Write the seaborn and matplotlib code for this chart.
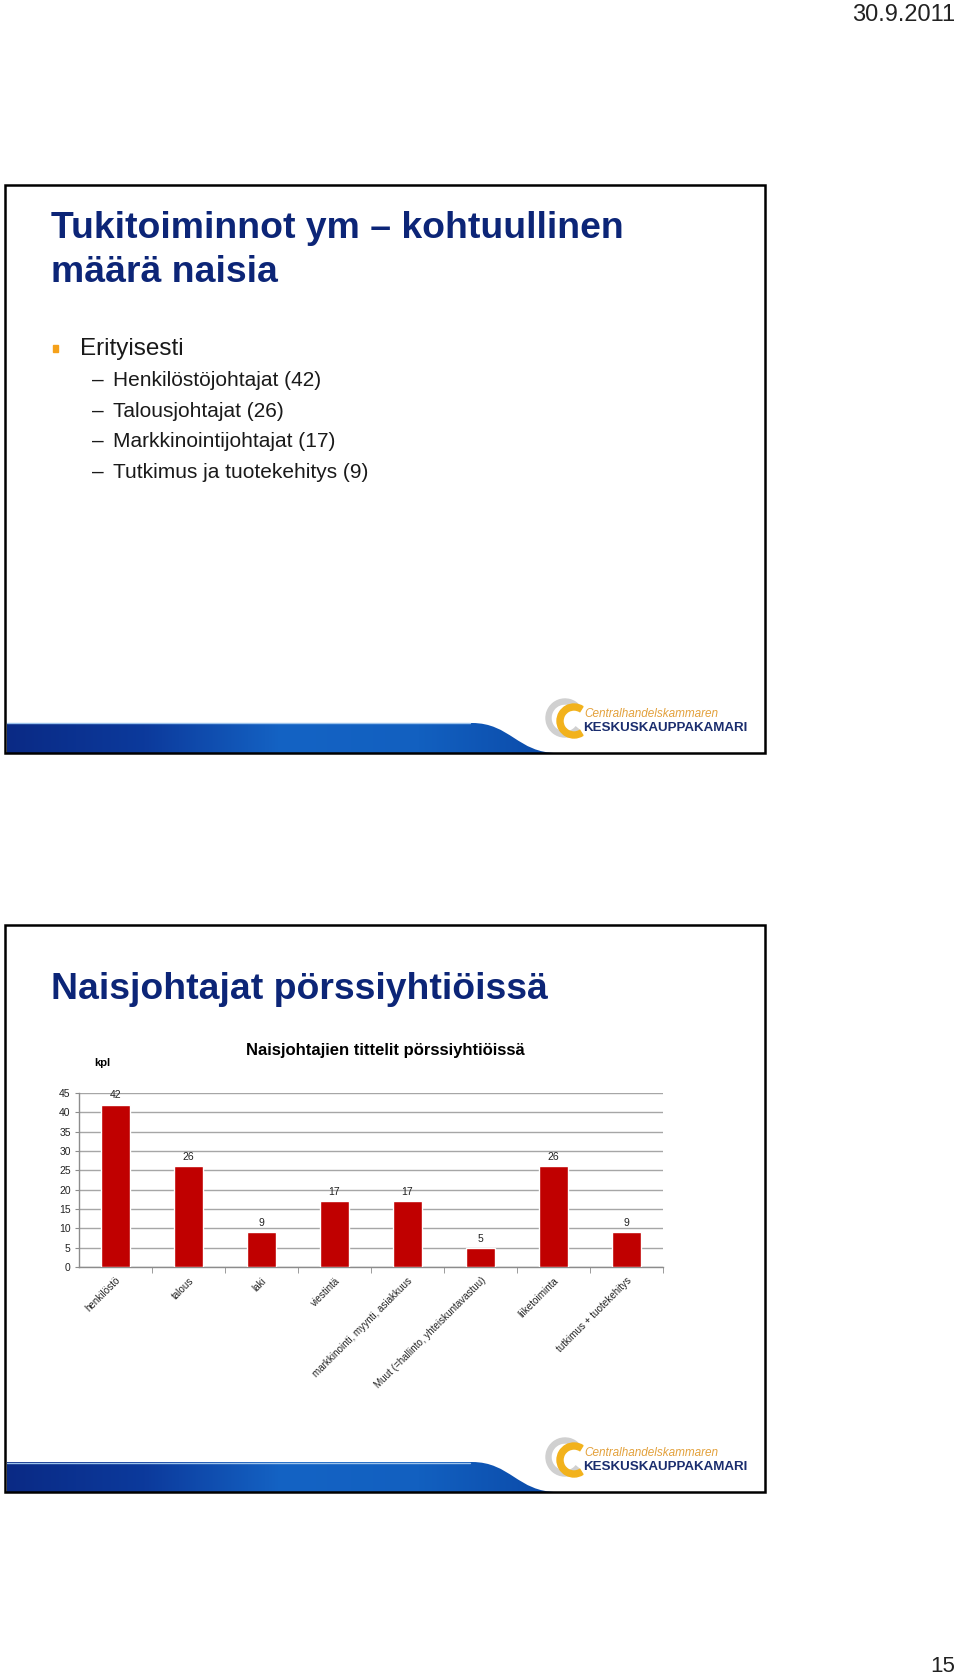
import numpy as np
import matplotlib
matplotlib.use('Agg')
import matplotlib.pyplot as plt
import seaborn as sns
from matplotlib import font_manager as fm
from matplotlib.colors import LinearSegmentedColormap
from matplotlib.patches import Rectangle, Wedge, PathPatch
from matplotlib.path import Path

# Chart data
categories = ['henkilöstö', 'talous', 'laki', 'viestintä',
              'markkinointi, myynti, asiakkuus',
              'Muut (=hallinto, yhteiskuntavastuu)',
              'liiketoiminta', 'tutkimus + tuotekehitys']
counts = [42, 26, 9, 17, 17, 5, 26, 9]
y_ticks = [0, 5, 10, 15, 20, 25, 30, 35, 40, 45]

# Slide texts
slide1_title = ['Tukitoiminnot ym – kohtuullinen', 'määrä naisia']
slide1_bullet = 'Erityisesti'
slide1_items = ['Henkilöstöjohtajat (42)', 'Talousjohtajat (26)',
                'Markkinointijohtajat (17)', 'Tutkimus ja tuotekehitys (9)']
slide2_title = 'Naisjohtajat pörssiyhtiöissä'
chart_title = 'Naisjohtajien tittelit pörssiyhtiöissä'
y_unit = 'kpl'
date_text = '30.9.2011'
page_no = '15'
logo_small = 'Centralhandelskammaren'
logo_big = 'KESKUSKAUPPAKAMARI'

W, H = 960, 1676
NAVY = '#0c2577'
RED = '#c00000'


def pick_font(names):
    for n in names:
        try:
            fm.findfont(fm.FontProperties(family=n), fallback_to_default=False)
            return n, True
        except Exception:
            pass
    return 'Liberation Sans', False


NARROW, has_narrow = pick_font(['Liberation Sans Narrow', 'Arial Narrow'])
k = 1.0 if has_narrow else 0.84   # titles only: shrink when no narrow face exists

sns.set_style('white')
plt.rcParams['font.family'] = ['Liberation Sans', 'DejaVu Sans']

fig = plt.figure(figsize=(W / 100, H / 100), dpi=100)
bg = fig.add_axes([0, 0, 1, 1])
bg.set_xlim(0, W)
bg.set_ylim(H, 0)
bg.axis('off')

band_cmap = LinearSegmentedColormap.from_list(
    'band', ['#0a2a85', '#0c3a9c', '#1463c4', '#1260c0', '#0b4aa8'])
grad = np.linspace(0, 1, 256).reshape(1, -1)


def slide_frame(top, bottom):
    # footer band with curved end
    y0, y1 = bottom - 30, bottom
    verts = [(7, y1), (7, y0), (472, y0), (510, y0), (518, y1), (557, y1), (7, y1)]
    codes = [Path.MOVETO, Path.LINETO, Path.LINETO, Path.CURVE4, Path.CURVE4,
             Path.CURVE4, Path.CLOSEPOLY]
    patch = PathPatch(Path(verts, codes), fc='none', ec='none')
    bg.add_patch(patch)
    im = bg.imshow(grad, cmap=band_cmap, extent=[7, 557, y1, y0], aspect='auto', zorder=1)
    im.set_clip_path(patch)
    bg.plot([7, 470], [y0 + 0.5, y0 + 0.5], color='#9cc3ec', lw=1, zorder=2)
    # logo
    bg.add_patch(Wedge((565, bottom - 35), 19, 40, 320, width=5, color='#d0d0d0', zorder=2))
    bg.add_patch(Wedge((574, bottom - 32), 17, 58, 302, width=6, color='#f2b21c', zorder=3))
    bg.text(584, bottom - 36, logo_small, fontsize=8.5, style='italic', color='#e3a13c',
            va='baseline', ha='left')
    bg.text(583, bottom - 22, logo_big, fontsize=9.6, weight='bold', color='#1a2d6e',
            va='baseline', ha='left')
    bg.add_patch(Rectangle((5, top), 760, bottom - top, fill=False, ec='black',
                           lw=1.8, zorder=5))


slide_frame(185, 753)
slide_frame(925, 1492)

# Header / page number
bg.text(955, 21, date_text, fontsize=17, ha='right', va='baseline', color='#222222')
bg.text(955, 1672, page_no, fontsize=16, ha='right', va='baseline', color='#222222')

# Slide 1
for i, line in enumerate(slide1_title):
    bg.text(51, 238 + 44 * i, line, fontsize=32 * k, weight='bold', color=NAVY,
            family=NARROW, va='baseline')
bg.add_patch(Rectangle((53, 345), 5, 7, color='#f5a11a'))
bg.text(80, 355, slide1_bullet, fontsize=17.5, va='baseline', color='#1a1a1a')
for i, item in enumerate(slide1_items):
    yb = 386 + 30.5 * i
    bg.text(92, yb, '–', fontsize=15, va='baseline', color='#1a1a1a')
    bg.text(113, yb, item, fontsize=15, va='baseline', color='#1a1a1a')

# Slide 2
bg.text(51, 999, slide2_title, fontsize=32 * k, weight='bold', color=NAVY,
        family=NARROW, va='baseline')
bg.text(385, 1055, chart_title, fontsize=12, weight='bold',
        ha='center', va='baseline', color='black')
bg.text(102, 1066, y_unit, fontsize=8, weight='bold', family=NARROW,
        ha='center', va='baseline', color='black')

# Bar chart
ax_l, ax_r, ax_t, ax_b = 79, 663, 1093, 1267
ax = fig.add_axes([ax_l / W, 1 - ax_b / H, (ax_r - ax_l) / W, (ax_b - ax_t) / H])
ax.patch.set_alpha(0)
sns.barplot(x=categories, y=counts, color=RED, saturation=1, width=0.4, ax=ax, zorder=3)
ax.bar_label(ax.containers[0], padding=3, fontsize=7.5, family=NARROW, color='#222222')
ax.set_ylim(0, 45)
ax.set_xlim(-0.5, len(categories) - 0.5)
ax.set_yticks(y_ticks)
ax.yaxis.grid(True, color='#a6a6a6', lw=1)
ax.set_axisbelow(True)
for s in ['top', 'right']:
    ax.spines[s].set_visible(False)
for s in ['left', 'bottom']:
    ax.spines[s].set_color('#8c8c8c')
    ax.spines[s].set_linewidth(1)
ax.set_xlabel('')
ax.set_ylabel('')
ax.tick_params(axis='y', length=3, color='#8c8c8c', labelsize=7.5, pad=3, left=True,
               labelcolor='#222222')
ax.set_xticks(np.arange(len(categories)) + 0.5, minor=True)
ax.tick_params(axis='x', which='minor', length=4, color='#8c8c8c', direction='out', bottom=True)
ax.tick_params(axis='x', which='major', length=0, pad=6, labelcolor='#222222')
for lab in ax.get_xticklabels():
    lab.set_rotation(45)
    lab.set_ha('right')
    lab.set_rotation_mode('anchor')
    lab.set_fontsize(8.5 * k)
    lab.set_family(NARROW)
for lab in ax.get_yticklabels():
    lab.set_family(NARROW)

fig.savefig('out.png', dpi=100)
